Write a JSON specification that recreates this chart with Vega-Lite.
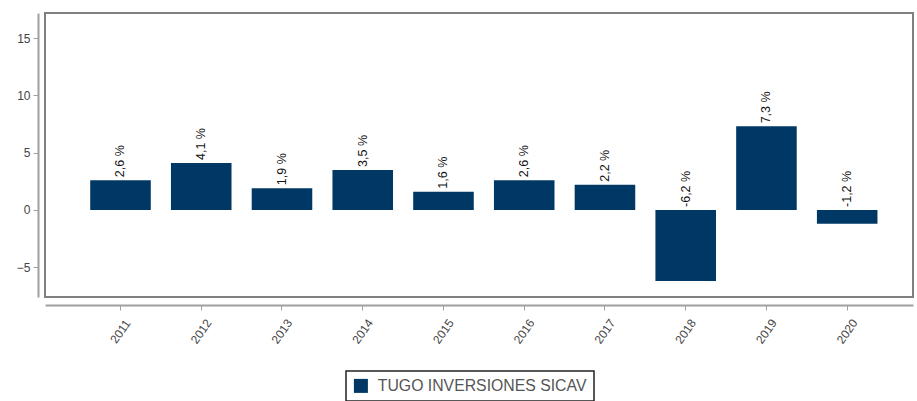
{
  "$schema": "https://vega.github.io/schema/vega-lite/v6.json",
  "width": 868,
  "height": 284,
  "autosize": {"type": "none"},
  "padding": {"left": 45, "top": 13, "right": 4, "bottom": 104},
  "background": "white",
  "config": {
    "font": "Liberation Sans",
    "view": {"stroke": "#808080", "strokeWidth": 2}
  },
  "data": {
    "values": [
      {"year": "2011", "value": 2.6, "series": "TUGO INVERSIONES SICAV"},
      {"year": "2012", "value": 4.1, "series": "TUGO INVERSIONES SICAV"},
      {"year": "2013", "value": 1.9, "series": "TUGO INVERSIONES SICAV"},
      {"year": "2014", "value": 3.5, "series": "TUGO INVERSIONES SICAV"},
      {"year": "2015", "value": 1.6, "series": "TUGO INVERSIONES SICAV"},
      {"year": "2016", "value": 2.6, "series": "TUGO INVERSIONES SICAV"},
      {"year": "2017", "value": 2.2, "series": "TUGO INVERSIONES SICAV"},
      {"year": "2018", "value": -6.2, "series": "TUGO INVERSIONES SICAV"},
      {"year": "2019", "value": 7.3, "series": "TUGO INVERSIONES SICAV"},
      {"year": "2020", "value": -1.2, "series": "TUGO INVERSIONES SICAV"}
    ]
  },
  "transform": [
    {"calculate": "max(datum.value, 0)", "as": "labelPos"},
    {"calculate": "replace(replace(format(datum.value, '.1f'), '.', ','), '\u2212', '-') + ' %'", "as": "label"}
  ],
  "encoding": {
    "x": {
      "field": "year",
      "type": "nominal",
      "title": null,
      "scale": {"paddingInner": 0.25, "paddingOuter": 0.5, "align": 0.56},
      "axis": {
        "offset": 8,
        "labelAngle": -55,
        "labelAlign": "center",
        "labelBaseline": "middle",
        "labelFontSize": 12,
        "labelColor": "#444444",
        "domainColor": "#a0a0a0",
        "domainWidth": 2,
        "tickColor": "#a0a0a0",
        "tickSize": 5,
        "labelPadding": 21
      }
    }
  },
  "layer": [
    {
      "mark": {"type": "bar", "color": "#003865"},
      "encoding": {
        "y": {
          "field": "value",
          "type": "quantitative",
          "title": null,
          "scale": {"domain": [-7.6, 17.2], "nice": false, "zero": false},
          "axis": {
            "values": [-5, 0, 5, 10, 15],
            "offset": 7,
            "grid": false,
            "labelFontSize": 12,
            "labelColor": "#444444",
            "domainColor": "#a0a0a0",
            "domainWidth": 2,
            "tickColor": "#a0a0a0",
            "tickSize": 5,
            "labelPadding": 3
          }
        },
        "color": {
          "field": "series",
          "type": "nominal",
          "scale": {"range": ["#003865"]},
          "legend": {
            "title": null,
            "orient": "none",
            "legendX": 301,
            "legendY": 358,
            "symbolType": "square",
            "symbolSize": 196,
            "symbolStrokeWidth": 0,
            "labelFontSize": 15.8,
            "labelOffset": 9,
            "labelLimit": 400,
            "labelColor": "#555555",
            "strokeColor": "#222222",
            "padding": 7,
            "fillColor": "white",
            "encode": {"legend": {"update": {"strokeWidth": {"value": 1.5}}}}
          }
        }
      }
    },
    {
      "mark": {"type": "text", "angle": -90, "align": "left", "baseline": "middle", "dx": 3, "fontSize": 12.5, "color": "#111111"},
      "encoding": {
        "y": {"field": "labelPos", "type": "quantitative"},
        "text": {"field": "label"}
      }
    }
  ]
}
